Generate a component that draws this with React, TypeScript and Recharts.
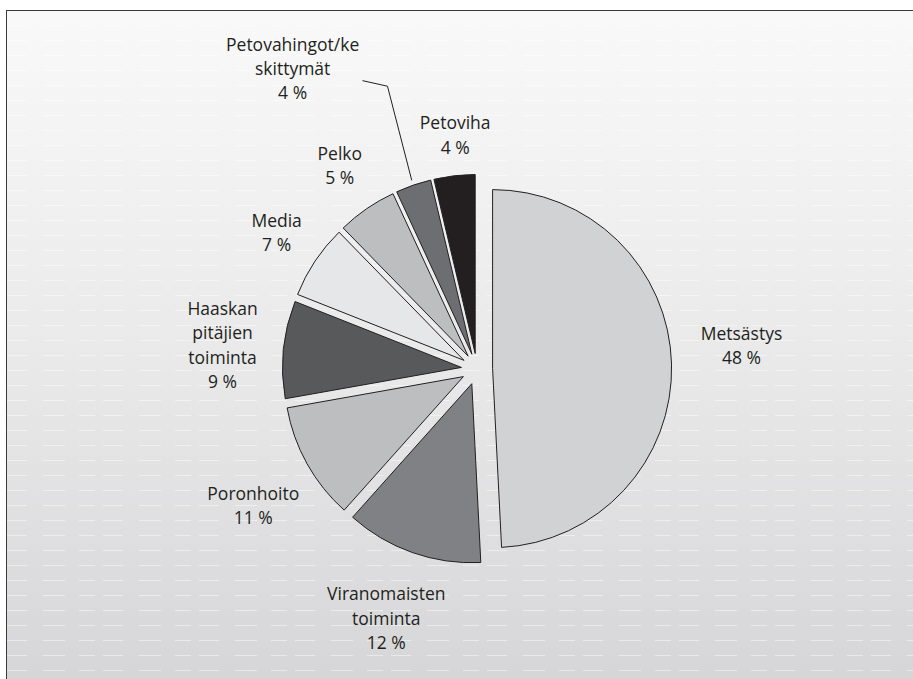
import { PieChart, Pie, Cell } from "recharts";

const CATEGORIES = [
  "Metsästys",
  "Viranomaisten toiminta",
  "Poronhoito",
  "Haaskan pitäjien toiminta",
  "Media",
  "Pelko",
  "Petovahingot/keskittymät",
  "Petoviha",
];
// slice sizes as drawn in the picture
const VALUES = [49.2, 12.4, 10.6, 8.8, 6.7, 5.4, 3.2, 3.7];
// percentages printed in the labels
const SHARES = [48, 12, 11, 9, 7, 5, 4, 4];
const LABEL_LINES = [
  ["Metsästys"],
  ["Viranomaisten", "toiminta"],
  ["Poronhoito"],
  ["Haaskan", "pitäjien", "toiminta"],
  ["Media"],
  ["Pelko"],
  ["Petovahingot/ke", "skittymät"],
  ["Petoviha"],
];

const COLORS = ["#d1d2d4", "#808184", "#bcbec0", "#58595b", "#e6e7e8", "#bcbec0", "#6d6e71", "#231f20"];
const LABEL_LAYOUT = [
  { dist: 250, turn: -3.9 },
  { dist: 249, turn: 0.65 },
  { dist: 246, turn: -2.2 },
  { dist: 240, turn: -0.3 },
  { dist: 227, turn: 0.7 },
  { dist: 230, turn: 0.65 },
  { dist: 338, turn: -12.95 },
  { dist: 220, turn: 1.45 },
];
const LINE_H = 24.2;

const W = 913;
const H = 679;
const CX = 477;
const CY = 369;
const R = 179;
const EXPLODE = 15.6;
const RAD = Math.PI / 180;
const INK = "#231f20";

const STRIPES =
  "url(\"data:image/svg+xml;utf8,<svg xmlns='http://www.w3.org/2000/svg' width='96' height='15'><path d='M0 14.5H20M36 14.5H58M72 14.5H88' stroke='white' stroke-opacity='0.45' stroke-width='1'/></svg>\")";

const data = CATEGORIES.map((name, i) => ({ name, value: VALUES[i] }));
const total = VALUES.reduce((a, b) => a + b, 0);
const mids = VALUES.map((v, i) => {
  const before = VALUES.slice(0, i).reduce((a, b) => a + b, 0);
  return 90 - (360 * (before + v / 2)) / total;
});

function makeLabel(slice: number) {
  return (props: any) => {
    if (props.index !== slice) return null;
    const { cx, cy, midAngle } = props;
    const lay = LABEL_LAYOUT[slice];
    const cw = (90 - midAngle + lay.turn) * RAD;
    const x = cx + lay.dist * Math.sin(cw);
    const y = cy - lay.dist * Math.cos(cw);
    const lines = [...LABEL_LINES[slice], `${SHARES[slice]} %`];
    const y0 = y - ((lines.length - 1) * LINE_H) / 2;
    let leader = null;
    if (slice === 6) {
      const m = (90 - midAngle) * RAD;
      const m2 = (90 - midAngle + 1.6) * RAD;
      const p1 = [cx + (R + 5) * Math.sin(m), cy - (R + 5) * Math.cos(m)];
      const p2 = [cx + 281 * Math.sin(m2), cy - 281 * Math.cos(m2)];
      const p3 = [p2[0] - 25, p2[1] - 5.6];
      leader = (
        <polyline
          points={`${p1[0]},${p1[1]} ${p2[0]},${p2[1]} ${p3[0]},${p3[1]}`}
          fill="none"
          stroke={INK}
          strokeWidth={1}
        />
      );
    }
    return (
      <g>
        {leader}
        <text
          x={x}
          y={y0}
          textAnchor="middle"
          dominantBaseline="central"
          fill={INK}
          fontSize={17.5}
          fontFamily="'Open Sans', sans-serif"
        >
          {lines.map((l, k) => (
            <tspan key={k} x={x} y={y0 + k * LINE_H}>
              {l}
            </tspan>
          ))}
        </text>
      </g>
    );
  };
}

export default function App() {
  return (
    <div style={{ position: "absolute", left: 0, top: 0, width: W, height: H, overflow: "hidden", background: "#fff" }}>
      <div
        style={{
          position: "absolute",
          left: 6,
          top: 10,
          width: 930,
          height: 700,
          border: "1.5px solid #3a3a3a",
          backgroundImage: `${STRIPES}, linear-gradient(180deg, #f9f9f9 0%, #e9e9ea 50%, #d4d4d6 100%)`,
        }}
      />
      <div style={{ position: "absolute", left: 0, top: 0 }}>
        <PieChart width={W} height={H} margin={{ top: 0, right: 0, bottom: 0, left: 0 }}>
          {VALUES.map((_, i) => (
            <Pie
              key={i}
              data={data}
              dataKey="value"
              nameKey="name"
              cx={CX + EXPLODE * Math.cos(mids[i] * RAD)}
              cy={CY - EXPLODE * Math.sin(mids[i] * RAD)}
              innerRadius={0}
              outerRadius={R}
              startAngle={90}
              endAngle={-270}
              isAnimationActive={false}
              labelLine={false}
              label={makeLabel(i)}
            >
              {data.map((_, j) => (
                <Cell
                  key={j}
                  fill={j === i ? COLORS[j] : "none"}
                  stroke={j === i ? INK : "none"}
                  strokeWidth={1}
                />
              ))}
            </Pie>
          ))}
        </PieChart>
      </div>
    </div>
  );
}
